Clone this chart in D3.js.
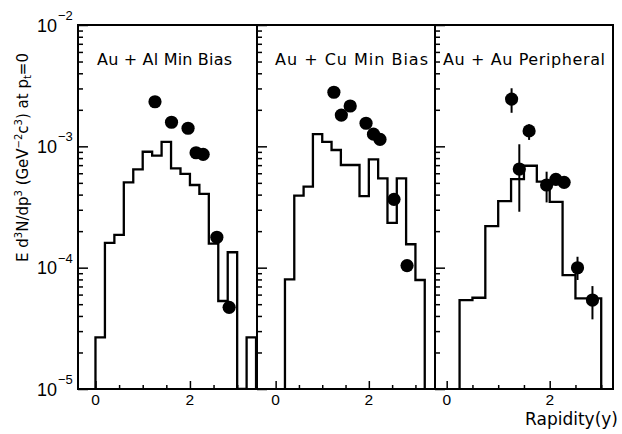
<!DOCTYPE html>
<html><head><meta charset="utf-8">
<script src="https://cdn.jsdelivr.net/npm/d3@7"></script>
<style>html,body{margin:0;padding:0;background:#fff}</style>
</head><body>
<svg id="c" width="622" height="434"></svg>
<script>
// ---------- data ----------
const panelTitles = ["Au + Al Min Bias", "Au + Cu Min Bias", "Au + Au Peripheral"];
const xTickLabels = [0, 2];
const xTickValues = [0, 0.5, 1, 1.5, 2, 2.5, 3];
const yDecadeExps = [-2, -3, -4, -5];
const yLabelParts = [["E d",0],["3",1],["N/dp",0],["3",1],[" (GeV",0],["\u22122",1],["c",0],["3",1],[") at p",0],["t",-1],["=0",0]];
const xTitle = "Rapidity(y)";

// Au + Al histogram (bin edges and contents)
const alEdges = [0,0.2,0.4,0.6,0.8,1.0,1.2,1.4,1.6,1.8,2.0,2.2,2.4,2.6,2.8,3.0,3.2,3.4];
const alHist  = [2.66e-5,1.60e-4,1.86e-4,5.05e-4,6.46e-4,9.02e-4,8.37e-4,1.09e-3,6.59e-4,5.92e-4,4.80e-4,4.05e-4,1.58e-4,5.31e-5,1.34e-4,0,2.66e-5];
const alPtX = [1.26,1.61,1.96,2.13,2.28,2.57,2.83];
const alPtV = [2.33e-3,1.58e-3,1.41e-3,8.85e-4,8.59e-4,1.78e-4,4.71e-5];

// Au + Cu
const cuEdges = [0.2,0.4,0.6,0.8,1.0,1.2,1.4,1.6,1.8,2.0,2.2,2.4,2.6,2.8,3.0,3.2];
const cuHist  = [8.02e-5,3.92e-4,4.65e-4,1.26e-3,1.09e-3,9.33e-4,7.02e-4,7.02e-4,3.89e-4,7.82e-4,5.45e-4,2.34e-4,5.45e-4,1.56e-4,7.91e-5];
const cuPtX = [1.25,1.41,1.60,1.94,2.10,2.24,2.54,2.82];
const cuPtV = [2.79e-3,1.81e-3,2.15e-3,1.55e-3,1.26e-3,1.14e-3,3.66e-4,1.04e-4];

// Au + Au peripheral
const auEdges = [0.25,0.5,0.75,1.0,1.25,1.5,1.75,2.0,2.25,2.5,2.75,3.0];
const auHist  = [5.41e-5,5.65e-5,2.20e-4,3.54e-4,5.37e-4,6.92e-4,5.11e-4,3.49e-4,8.69e-5,5.58e-5,5.58e-5];
const auPtX = [1.26,1.41,1.60,1.94,2.12,2.28,2.54,2.83];
const auPtV = [2.45e-3,6.50e-4,1.34e-3,4.80e-4,5.35e-4,5.05e-4,9.98e-5,5.41e-5];
const auErrLo = [1.89e-3,2.89e-4,1.13e-3,3.45e-4,5.35e-4,5.05e-4,7.91e-5,3.75e-5];
const auErrHi = [3.01e-3,1.04e-3,1.52e-3,6.18e-4,5.35e-4,5.05e-4,1.23e-4,7.05e-5];

// ---------- layout ----------
const svg = d3.select("#c");
const yTop = 25, yBot = 389;
const panelX = [[78,257],[257,435],[435,613]];
const xDomains = [[-0.37,3.42],[-0.40,3.42],[-0.227,3.229]];
const titleX = [97, 275, 443];
const titleLen = [135, 153, 162];

const y = d3.scaleLog().domain([1e-5,1e-2]).range([yBot,yTop]);

const panels = [
  {edges: alEdges, hist: alHist, px: alPtX, pv: alPtV},
  {edges: cuEdges, hist: cuHist, px: cuPtX, pv: cuPtV},
  {edges: auEdges, hist: auHist, px: auPtX, pv: auPtV, lo: auErrLo, hi: auErrHi}
];

const defs = svg.append("defs");
const minorVals = [];
[-5,-4,-3].forEach(e => { for (let k=2;k<=9;k++) minorVals.push(k*Math.pow(10,e)); });
const majorVals = yDecadeExps.map(e => Math.pow(10,e));

panels.forEach((p, i) => {
  const [x0, x1] = panelX[i];
  const x = d3.scaleLinear().domain(xDomains[i]).range([x0, x1]);
  defs.append("clipPath").attr("id","clip"+i).append("rect")
    .attr("x",x0).attr("y",yTop).attr("width",x1-x0).attr("height",yBot-yTop);
  const g = svg.append("g");
  const yv = v => v > 0 ? y(v) : yBot;

  // histogram
  const pts = [[x(p.edges[0]), yBot]];
  p.hist.forEach((v, j) => { pts.push([x(p.edges[j]), yv(v)]); pts.push([x(p.edges[j+1]), yv(v)]); });
  pts.push([x(p.edges[p.edges.length-1]), yBot]);
  g.append("path").attr("clip-path","url(#clip"+i+")")
    .attr("d", d3.line()(pts)).attr("fill","none").attr("stroke","#000")
    .attr("stroke-width",2.3).attr("stroke-linejoin","miter");

  // error bars
  if (p.lo) {
    p.px.forEach((xv, j) => {
      g.append("line").attr("x1",x(xv)).attr("x2",x(xv))
        .attr("y1",y(p.lo[j])).attr("y2",y(p.hi[j]))
        .attr("stroke","#000").attr("stroke-width",2);
    });
  }
  // points
  g.selectAll("circle.pt").data(p.px).enter().append("circle")
    .attr("cx", d => x(d)).attr("cy", (d,j) => y(p.pv[j])).attr("r",6.6).attr("fill","#000");

  // y ticks (pointing into panel)
  const ayMin = d3.axisRight(y).tickValues(minorVals).tickSize(5).tickFormat("");
  const ayMaj = d3.axisRight(y).tickValues(majorVals).tickSize(10).tickFormat("");
  [ayMin, ayMaj].forEach(ax => {
    const a = svg.append("g").attr("transform",`translate(${x0},0)`).call(ax);
    a.select(".domain").remove();
    a.selectAll("line").attr("stroke-width",1.5);
  });
  // x ticks (pointing up)
  const axMin = d3.axisTop(x).tickValues(xTickValues.filter(v => v%2 !== 0)).tickSize(4).tickFormat("");
  const axMaj = d3.axisTop(x).tickValues(xTickValues.filter(v => v%2 === 0)).tickSize(8).tickFormat("");
  [axMin, axMaj].forEach(ax => {
    const a = svg.append("g").attr("transform",`translate(0,${yBot})`).call(ax);
    a.select(".domain").remove();
    a.selectAll("line").attr("stroke-width",1.5);
  });
  // x tick labels
  svg.selectAll(null).data(xTickLabels).enter().append("text")
    .attr("x", d => x(d)).attr("y", 405).attr("text-anchor","middle")
    .attr("font-family","Liberation Sans, Arial, sans-serif").attr("font-size",15.5)
    .text(d => d);

  // title
  svg.append("text").attr("x", titleX[i]).attr("y", 64.5)
    .attr("font-family","DejaVu Sans, sans-serif").attr("font-size",16)
    .attr("textLength", titleLen[i]).attr("lengthAdjust","spacing")
    .text(panelTitles[i]);
});

// frame
svg.append("rect").attr("x",78).attr("y",yTop).attr("width",613-78).attr("height",yBot-yTop)
  .attr("fill","none").attr("stroke","#000").attr("stroke-width",2);
[257,435].forEach(xx => svg.append("line").attr("x1",xx).attr("x2",xx).attr("y1",yTop).attr("y2",yBot)
  .attr("stroke","#000").attr("stroke-width",2));

// y tick labels
yDecadeExps.forEach(e => {
  const yy = y(Math.pow(10,e));
  svg.append("text").attr("x",57).attr("y",yy+6.5).attr("text-anchor","end")
    .attr("font-family","Liberation Sans, Arial, sans-serif").attr("font-size",18).text("10");
  svg.append("text").attr("x",58).attr("y",yy-5).attr("text-anchor","start")
    .attr("font-family","Liberation Sans, Arial, sans-serif").attr("font-size",13).text("\u2212"+(-e));
});

// y axis title
const yt = svg.append("text").attr("transform","translate(27.5,262) rotate(-90)")
  .attr("font-family","DejaVu Sans, sans-serif").attr("font-size",15);
let cur = 0;
yLabelParts.forEach(([t, s]) => {
  const target = s === 1 ? -6 : (s === -1 ? 3 : 0);
  yt.append("tspan").attr("dy", target - cur).attr("font-size", s === 0 ? 15 : 10).text(t);
  cur = target;
});

// x axis title
svg.append("text").attr("x",618).attr("y",425).attr("text-anchor","end")
  .attr("font-family","DejaVu Sans, sans-serif").attr("font-size",17).text(xTitle);
</script>
</body></html>
